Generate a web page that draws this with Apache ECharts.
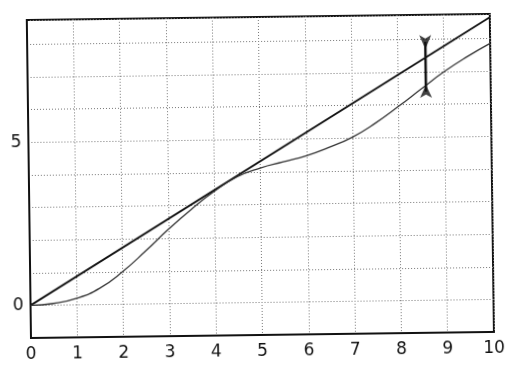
<!DOCTYPE html>
<html>
<head>
<meta charset="utf-8">
<script src="https://cdn.jsdelivr.net/npm/echarts@6/dist/echarts.min.js"></script>
<style>
html,body{margin:0;padding:0;background:#fff;overflow:hidden;}
#c{width:517px;height:371px;transform:rotate(-0.75deg);transform-origin:50% 50%;}
</style>
</head>
<body>
<div id="c"></div>
<script>
// ---- data ----
var xTicks = [0,1,2,3,4,5,6,7,8,9,10];
var yTickLabels = [0,5];
var curveX = [0,0.5,1,1.5,2,2.5,3,3.5,4,4.5,5,5.5,6,6.5,7,7.5,8,8.5,9,9.5,10];
var curveY = [0,0.05,0.2,0.5,1.0,1.62,2.28,2.88,3.42,3.86,4.12,4.3,4.48,4.73,5.03,5.45,5.95,6.48,7.0,7.45,7.85];
var lineX = [0,10];
var lineY = [0,8.65];
var arrowX = [8.6,8.6];
var arrowY = [7.92,6.4];      // shaft ends
var arrowHeadY = [7.7,6.6];   // top head (points down), bottom head (points up)

function pairs(xs, ys){ return xs.map(function(x,i){return [x, ys[i]];}); }

var chart = echarts.init(document.getElementById('c'), null, {renderer:'canvas'});
var font = 'DejaVu Sans';
chart.setOption({
  animation:false,
  backgroundColor:'#fff',
  grid:{left:29,right:25,top:17,bottom:36,show:true,borderColor:'#111',borderWidth:2,backgroundColor:'transparent'},
  xAxis:{
    type:'value',min:0,max:10,interval:1,
    axisLine:{show:true,onZero:false,lineStyle:{color:'#111',width:2}},
    axisTick:{show:false},
    axisLabel:{color:'#111',fontFamily:font,fontSize:17,margin:8,
      formatter:function(v){return xTicks.indexOf(v)>=0? String(v):'';}},
    splitLine:{show:true,lineStyle:{color:'#777',type:[1,2],width:1}}
  },
  yAxis:{
    type:'value',min:-1,max:8.75,interval:1,
    axisLine:{show:true,onZero:false,lineStyle:{color:'#111',width:2}},
    axisTick:{show:false},
    axisLabel:{color:'#111',fontFamily:font,fontSize:17,margin:7,
      showMaxLabel:false,
      formatter:function(v){return yTickLabels.indexOf(v)>=0? String(v):'';}},
    splitLine:{show:true,lineStyle:{color:'#777',type:[1,2],width:1}}
  },
  series:[
    {type:'line',data:pairs(lineX,lineY),symbol:'none',lineStyle:{color:'#111',width:1.8},z:3},
    {type:'line',data:pairs(curveX,curveY),symbol:'none',smooth:0.5,lineStyle:{color:'#333',width:1.3},z:3},
    {type:'line',data:pairs(arrowX,arrowY),symbol:'none',lineStyle:{color:'#111',width:2.5},z:4},
    {type:'scatter',data:[[arrowX[0],arrowHeadY[0]]],symbol:'arrow',symbolSize:[9,14],symbolRotate:180,itemStyle:{color:'#111'},z:5},
    {type:'scatter',data:[[arrowX[1],arrowHeadY[1]]],symbol:'arrow',symbolSize:[9,13],symbolRotate:0,itemStyle:{color:'#111'},z:5}
  ]
});
</script>
</body>
</html>
